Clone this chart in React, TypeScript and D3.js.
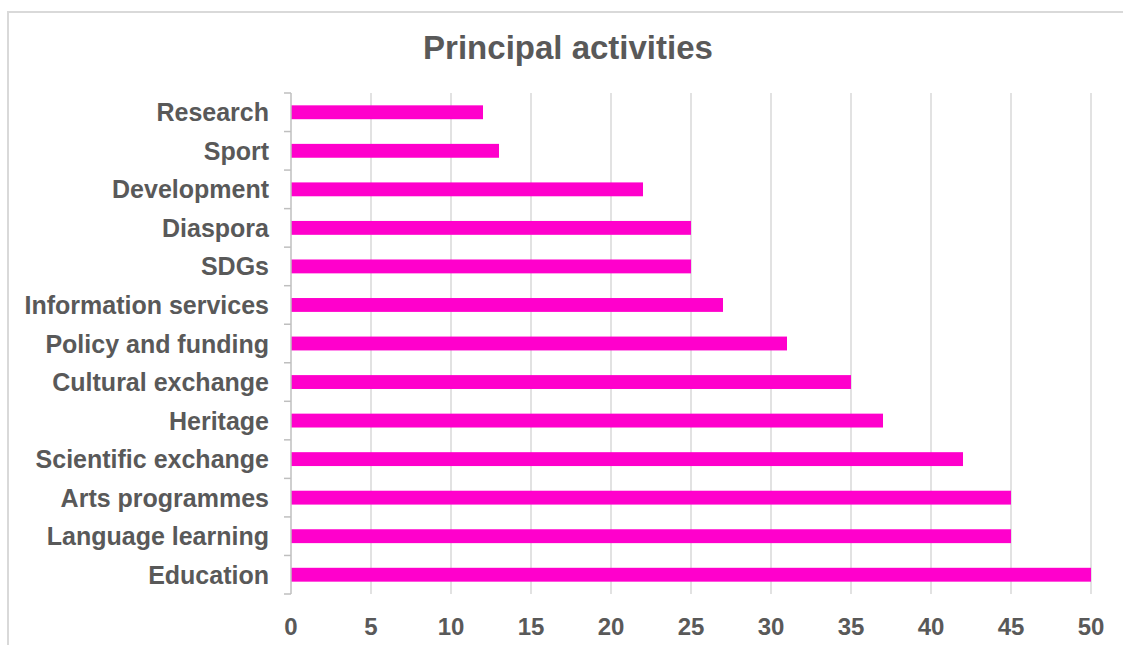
import * as d3 from "d3";
import { useEffect, useRef } from "react";

const categories = [
  "Research",
  "Sport",
  "Development",
  "Diaspora",
  "SDGs",
  "Information services",
  "Policy and funding",
  "Cultural exchange",
  "Heritage",
  "Scientific exchange",
  "Arts programmes",
  "Language learning",
  "Education",
];
const values = [12, 13, 22, 25, 25, 27, 31, 35, 37, 42, 45, 45, 50];
const xTicks = [0, 5, 10, 15, 20, 25, 30, 35, 40, 45, 50];

export default function App() {
  const ref = useRef<SVGSVGElement | null>(null);

  useEffect(() => {
    if (!ref.current) return;
    const width = 1123;
    const height = 645;
    const margin = { top: 93, right: 32, bottom: 51, left: 291 };
    const innerW = width - margin.left - margin.right;
    const innerH = height - margin.top - margin.bottom;
    const text = "#595959";
    const grid = "#d9d9d9";

    const svg = d3.select(ref.current);
    svg.selectAll("*").remove();

    // outer frame (right and bottom edges fall outside the picture)
    svg
      .append("rect")
      .attr("x", 8)
      .attr("y", 12)
      .attr("width", width + 20)
      .attr("height", height + 20)
      .attr("fill", "white")
      .attr("stroke", grid)
      .attr("stroke-width", 2);

    svg
      .append("text")
      .attr("x", 568)
      .attr("y", 59)
      .attr("text-anchor", "middle")
      .attr("font-size", 33)
      .attr("font-weight", "bold")
      .attr("fill", text)
      .text("Principal activities");

    const g = svg.append("g").attr("transform", `translate(${margin.left},${margin.top})`);

    const x = d3.scaleLinear().domain([0, 50]).range([0, innerW]);
    const y = d3
      .scaleBand<string>()
      .domain(categories)
      .range([0, innerH])
      .paddingInner(0.64)
      .paddingOuter(0.32);
    const step = y.step();

    // vertical gridlines
    g.selectAll(".grid")
      .data(xTicks.slice(1))
      .join("line")
      .attr("x1", (d) => x(d))
      .attr("x2", (d) => x(d))
      .attr("y1", 0)
      .attr("y2", innerH)
      .attr("stroke", grid)
      .attr("stroke-width", 1.5);

    // bars
    g.selectAll(".bar")
      .data(categories)
      .join("rect")
      .attr("x", 0)
      .attr("y", (d) => y(d)!)
      .attr("width", (_, i) => x(values[i]))
      .attr("height", y.bandwidth())
      .attr("fill", "#ff00cc");

    // category axis line + boundary ticks
    g.append("line")
      .attr("x1", 0)
      .attr("x2", 0)
      .attr("y1", 0)
      .attr("y2", innerH)
      .attr("stroke", "#bfbfbf")
      .attr("stroke-width", 1.5);

    g.selectAll(".ctick")
      .data(d3.range(categories.length + 1))
      .join("line")
      .attr("x1", -7)
      .attr("x2", 0)
      .attr("y1", (i) => i * step)
      .attr("y2", (i) => i * step)
      .attr("stroke", "#bfbfbf")
      .attr("stroke-width", 1.5);

    g.selectAll(".clabel")
      .data(categories)
      .join("text")
      .attr("x", -22)
      .attr("y", (d) => y(d)! + y.bandwidth() / 2)
      .attr("dy", "0.36em")
      .attr("text-anchor", "end")
      .attr("font-size", 25)
      .attr("font-weight", "bold")
      .attr("fill", text)
      .text((d) => d);

    g.selectAll(".xlabel")
      .data(xTicks)
      .join("text")
      .attr("x", (d) => x(d))
      .attr("y", innerH + 41)
      .attr("text-anchor", "middle")
      .attr("font-size", 24)
      .attr("font-weight", "bold")
      .attr("fill", text)
      .text((d) => d);
  }, []);

  return (
    <svg
      ref={ref}
      width={1123}
      height={645}
      style={{ position: "absolute", left: 0, top: 0, fontFamily: "'Liberation Sans', Arial, sans-serif" }}
    />
  );
}
